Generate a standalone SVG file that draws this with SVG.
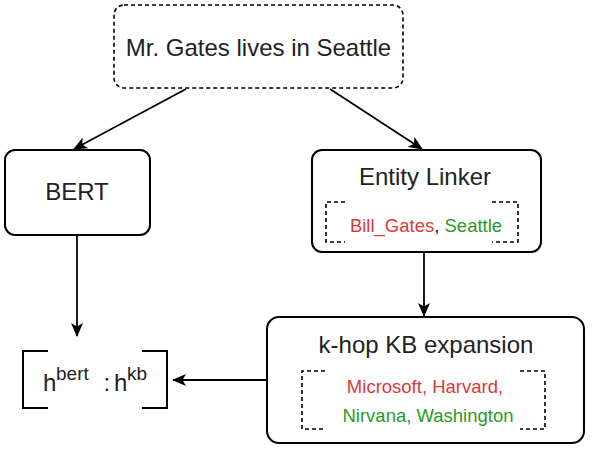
<svg xmlns="http://www.w3.org/2000/svg" width="598" height="450" viewBox="0 0 598 450">
<style>
.box{fill:#fff;stroke:#000;stroke-width:2}
.dash{fill:none;stroke:#000;stroke-width:1.6;stroke-dasharray:4 3}
.lbl{font-family:"Liberation Sans",Arial,sans-serif;font-size:24px;fill:#222}
.sm{font-family:"Liberation Sans",Arial,sans-serif;font-size:18.5px}
.red{fill:#d93a3a}
.green{fill:#2a9a2a}
.conn{fill:none;stroke:#000;stroke-width:1.8}
</style>
<defs>
<marker id="arr" viewBox="0 0 14 12" refX="13" refY="6" markerWidth="14" markerHeight="12" markerUnits="userSpaceOnUse" orient="auto">
<path d="M0,0 L14,6 L0,12 L3.5,6 Z" fill="#000"/>
</marker>
</defs>
<rect width="598" height="450" fill="#fff"/>
<g id="connectors">
<line class="conn" x1="186" y1="89" x2="74" y2="149" marker-end="url(#arr)"/>
<line class="conn" x1="330" y1="89" x2="422" y2="149" marker-end="url(#arr)"/>
<line class="conn" x1="77" y1="235" x2="77" y2="336" marker-end="url(#arr)"/>
<line class="conn" x1="424" y1="252" x2="424" y2="316" marker-end="url(#arr)"/>
<line class="conn" x1="267" y1="380" x2="173" y2="380" marker-end="url(#arr)"/>
</g>
<g id="input">
<rect class="dash" x="114" y="5" width="289" height="83" rx="10"/>
<text class="lbl" x="258.5" y="56" text-anchor="middle">Mr. Gates lives in Seattle</text>
</g>
<g id="bert">
<rect class="box" x="5" y="150" width="145" height="85" rx="10"/>
<text class="lbl" x="77" y="200" text-anchor="middle">BERT</text>
</g>
<g id="entity-linker">
<rect class="box" x="312" y="150" width="229" height="102" rx="10"/>
<text class="lbl" x="425" y="185" text-anchor="middle">Entity Linker</text>
<path class="dash" d="M345,202 H326 V242 H345 M492,202 H518 V242 H492"/>
<text class="sm" x="426" y="232" text-anchor="middle"><tspan class="red">Bill_Gates</tspan><tspan fill="#222">, </tspan><tspan class="green">Seattle</tspan></text>
</g>
<g id="khop">
<rect class="box" x="267" y="317" width="317" height="126" rx="12"/>
<text class="lbl" x="426" y="353" text-anchor="middle">k-hop KB expansion</text>
<path class="dash" d="M325,371 H302 V429 H325 M520,371 H545 V429 H520"/>
<text class="sm red" x="425" y="393" text-anchor="middle">Microsoft, Harvard,</text>
<text class="sm green" x="428" y="422" text-anchor="middle">Nirvana, Washington</text>
</g>
<g id="concat">
<path fill="none" stroke="#000" stroke-width="2" d="M48,351 H23 V408 H48 M142,351 H167 V408 H142"/>
<text class="lbl" x="43" y="391">h</text>
<text class="lbl" x="56" y="380" style="font-size:19px">bert</text>
<text class="lbl" x="103.5" y="391">:</text>
<text class="lbl" x="114" y="391">h</text>
<text class="lbl" x="127" y="380" style="font-size:19px">kb</text>
</g>
</svg>
